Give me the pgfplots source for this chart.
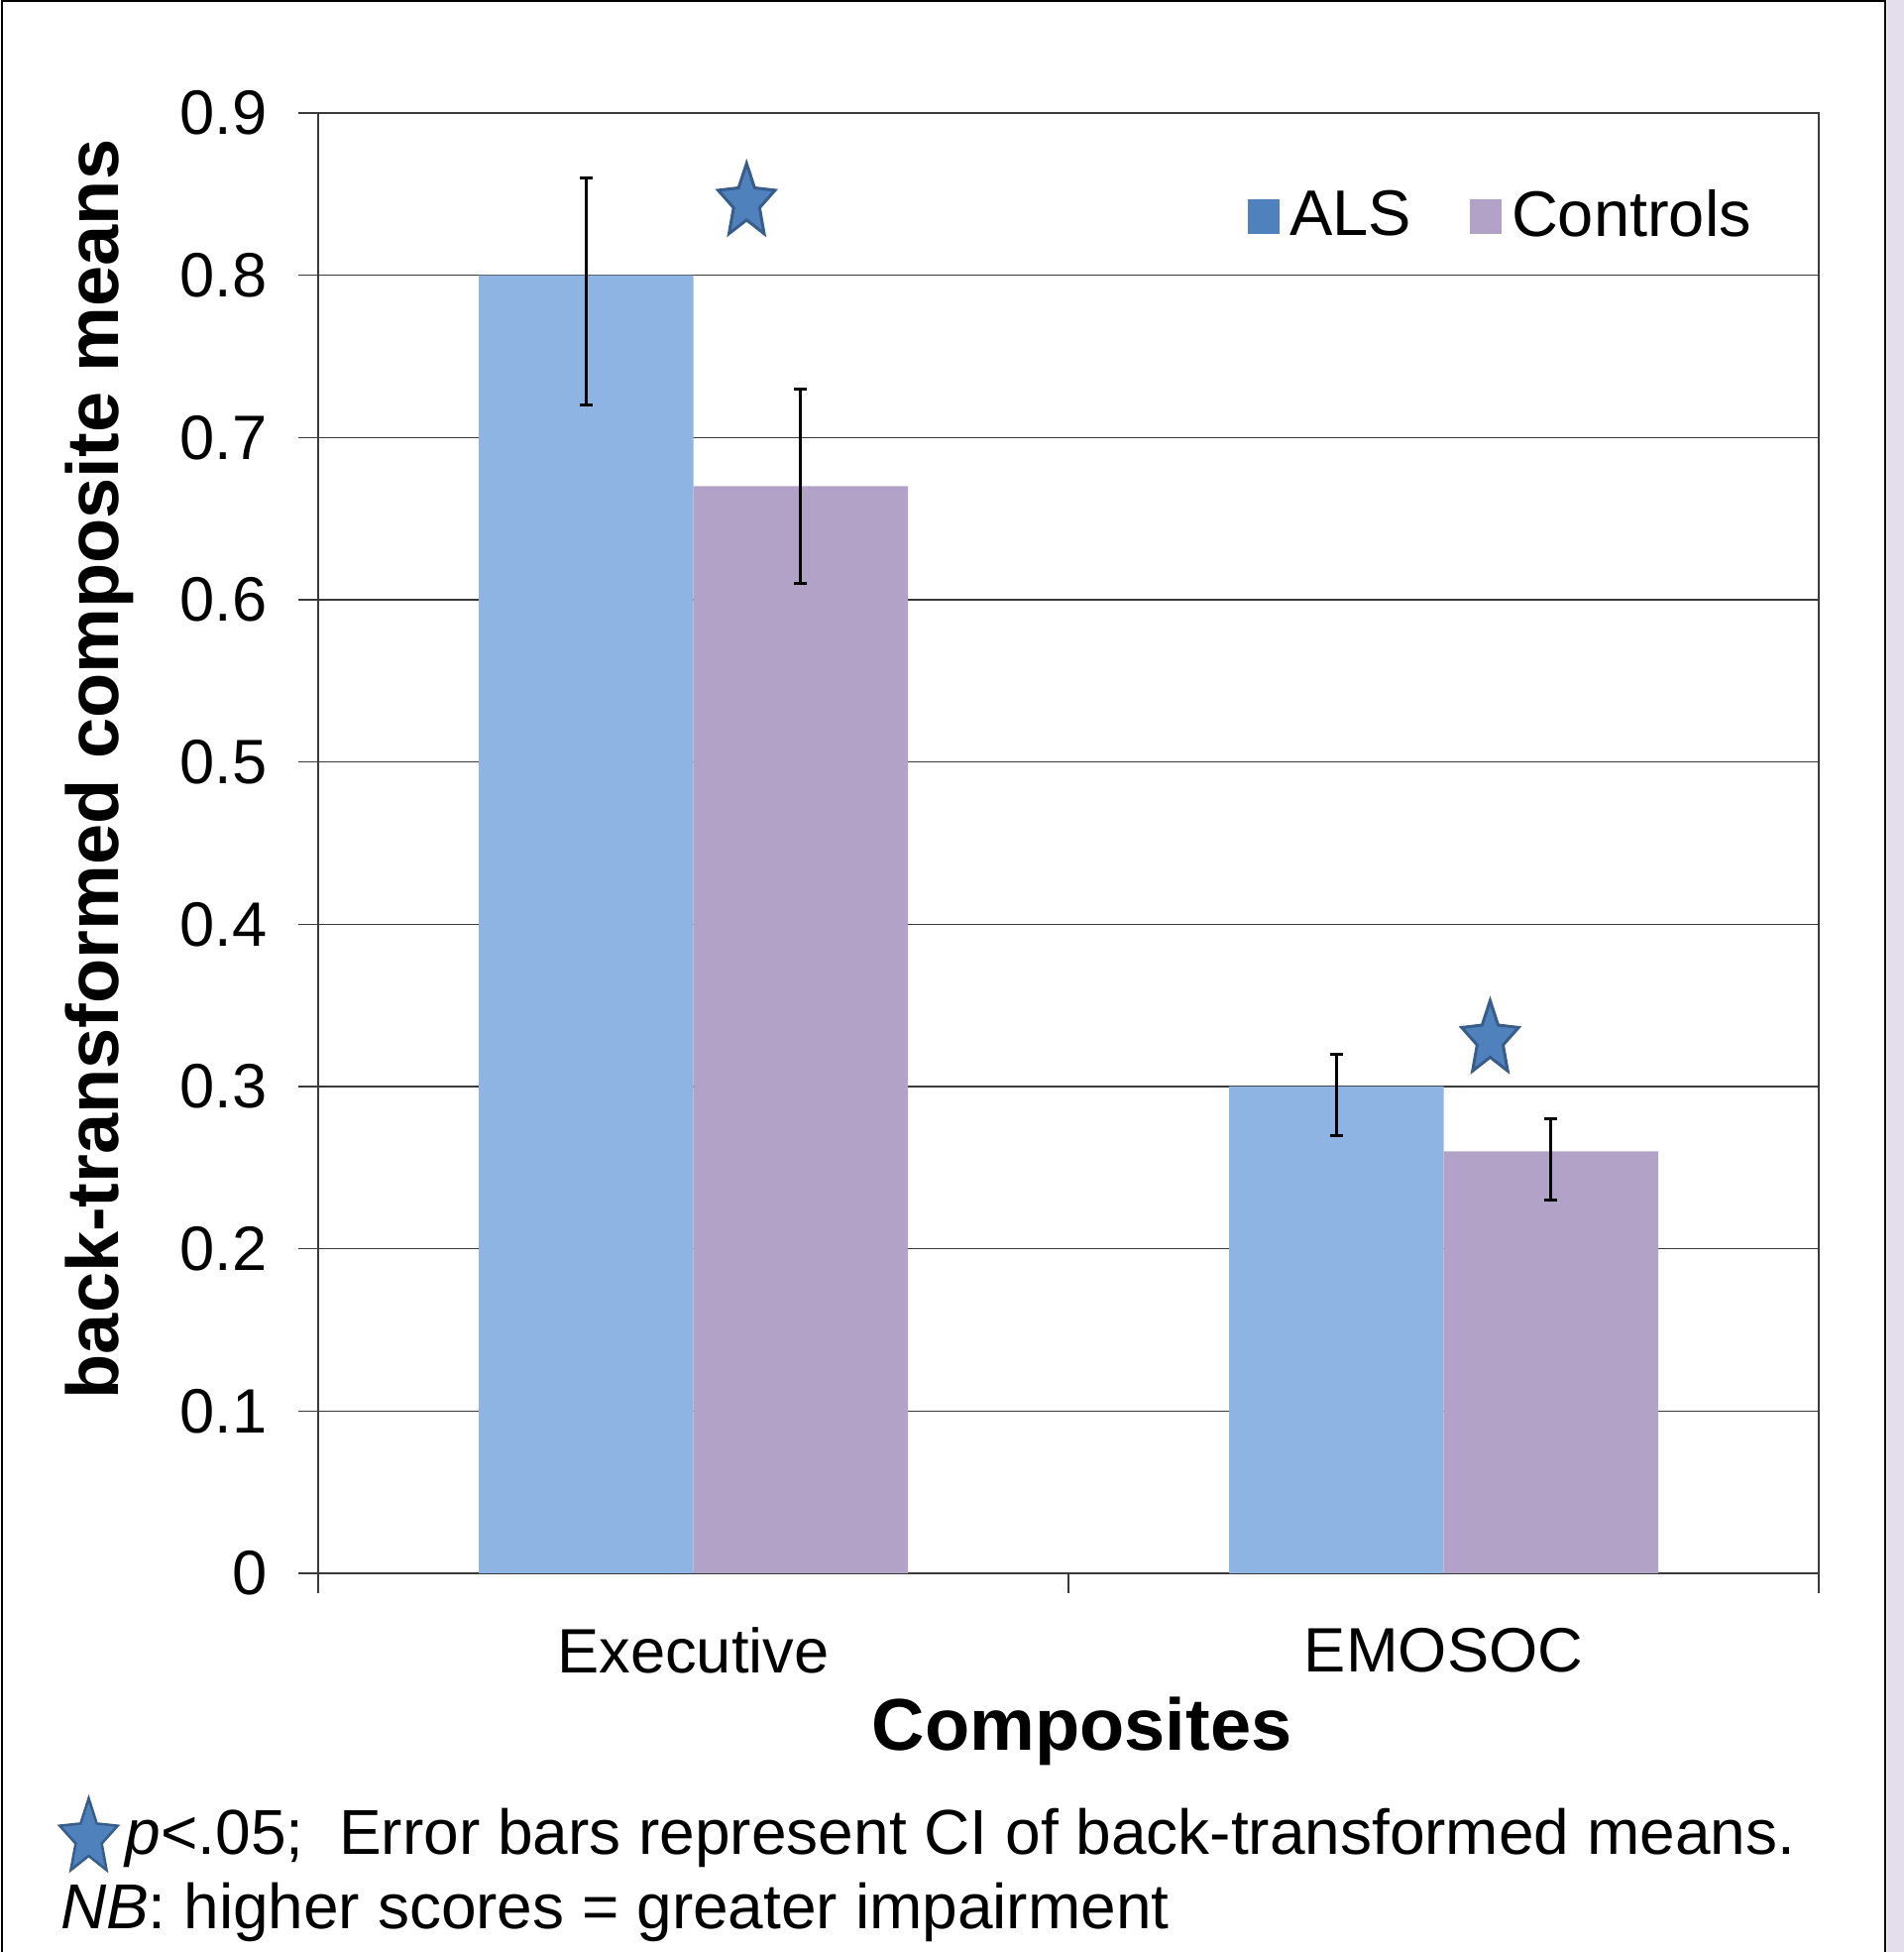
\documentclass[border=0pt]{standalone}
\usepackage{fontspec}
\setmainfont{Liberation Sans}
\usepackage{pgfplots}
\pgfplotsset{compat=1.18}
\usepackage{pgfplotstable}
\definecolor{alsbar}{HTML}{8EB4E3}
\definecolor{ctlbar}{HTML}{B3A2C7}
\definecolor{alsdark}{HTML}{4F81BD}
\definecolor{stardraw}{HTML}{385D8A}
\definecolor{lav}{HTML}{E4DEEC}
\definecolor{gridc}{HTML}{3A3A3A}

% bars placed at their own x (category 0 = Executive, 1 = EMOSOC)
\pgfplotstableread{
x y ep em
-0.143 0.80 0.06 0.08
0.857 0.30 0.02 0.03
}\als
\pgfplotstableread{
x y ep em
0.143 0.67 0.06 0.06
1.143 0.26 0.02 0.03
}\ctl
\pgfplotstableread{
x y
0.071 0.845
1.062 0.329
}\stars

\pgfdeclareplotmark{fstar}{%
 \pgfpathmoveto{\pgfqpoint{0pt}{7.85pt}}%
 \pgfpathlineto{\pgfqpoint{1.62pt}{2.90pt}}%
 \pgfpathlineto{\pgfqpoint{5.75pt}{2.42pt}}%
 \pgfpathlineto{\pgfqpoint{2.62pt}{-1.11pt}}%
 \pgfpathlineto{\pgfqpoint{3.55pt}{-6.35pt}}%
 \pgfpathlineto{\pgfqpoint{0pt}{-3.58pt}}%
 \pgfpathlineto{\pgfqpoint{-3.55pt}{-6.35pt}}%
 \pgfpathlineto{\pgfqpoint{-2.62pt}{-1.11pt}}%
 \pgfpathlineto{\pgfqpoint{-5.75pt}{2.42pt}}%
 \pgfpathlineto{\pgfqpoint{-1.62pt}{2.90pt}}%
 \pgfpathclose
 \pgfusepathqfillstroke
}

\begin{document}
\begin{tikzpicture}[x=1pt,y=1pt]
\useasboundingbox (0,0) rectangle (384.2,393.8);
\fill[lav] (380.8,0) rectangle (384.2,393.8);
\draw[line width=0.5pt] (0.4,0) -- (0.4,393.55) -- (380.4,393.55) -- (380.4,0);
\begin{axis}[
  at={(64.2pt,76.4pt)}, anchor=south west,
  scale only axis, width=302.8pt, height=294.6pt,
  xmin=-0.5, xmax=1.5, ymin=0, ymax=0.9,
  xtick={-0.5,0.5,1.5}, xticklabels={},
  extra x ticks={0,1}, extra x tick labels={Executive,EMOSOC},
  extra x tick style={tick style={draw=none}},
  ytick={0,0.1,0.2,0.3,0.4,0.5,0.6,0.7,0.8,0.9},
  yticklabels={0,0.1,0.2,0.3,0.4,0.5,0.6,0.7,0.8,0.9},
  xtick pos=bottom, ytick pos=left,
  tick align=outside, major tick length=4pt,
  tick style={draw=gridc, line width=0.3pt},
  axis line style={draw=gridc, line width=0.3pt},
  ymajorgrids, grid style={draw=gridc, line width=0.3pt},
  /pgf/number format/assume math mode=true,
  tick label style={font=\fontsize{12.65}{15}\selectfont},
  yticklabel style={anchor=east, xshift=-2.8pt},
  xticklabel style={anchor=center, yshift=-11.6pt},
  xlabel={Composites},
  xlabel style={at={(axis description cs:0.509,-0.108)}, anchor=center, font=\fontsize{14.8}{17}\selectfont\bfseries},
  ylabel={back-transformed composite means},
  ylabel style={at={(axis description cs:-0.146,0.5506)}, anchor=center, font=\fontsize{14.8}{17}\selectfont\bfseries},
  legend columns=2,
  legend style={at={(0.619,0.929)}, anchor=west, draw=none, fill=none, inner sep=0pt,
    font=\fontsize{13}{15}\selectfont,
    nodes={inner sep=2pt},
    /tikz/every even column/.append style={column sep=9.8pt}},
]
\addplot[ybar, bar width=0.286, bar shift=0, fill=alsbar, draw=none,
  legend image code/.code={\fill[alsdark] (0pt,-3.5pt) rectangle (6.4pt,3.5pt);},
  error bars/.cd, y dir=both, y explicit,
  error bar style={draw=black, line width=0.6pt},
  error mark=|,
  error mark options={draw=black, line width=0.6pt, mark size=1.3pt}]
  table[x=x, y=y, y error plus=ep, y error minus=em]{\als};
\addlegendentry{ALS}
\addplot[ybar, bar width=0.286, bar shift=0, fill=ctlbar, draw=none,
  legend image code/.code={\fill[ctlbar] (0pt,-3.5pt) rectangle (6.4pt,3.5pt);},
  error bars/.cd, y dir=both, y explicit,
  error bar style={draw=black, line width=0.6pt},
  error mark=|,
  error mark options={draw=black, line width=0.6pt, mark size=1.3pt}]
  table[x=x, y=y, y error plus=ep, y error minus=em]{\ctl};
\addlegendentry{Controls}
\addplot[only marks, mark=fstar, mark options={fill=alsdark, draw=stardraw, line width=0.6pt}, forget plot]
  table[x=x, y=y]{\stars};
\end{axis}
% footnote
\filldraw[fill=alsdark, draw=stardraw, line width=0.5pt, shift={(17.9,23)}, scale=0.93]
 (0,8.62) -- (1.75,3.14) -- (6.30,2.66) -- (2.83,-1.20) -- (3.89,-6.97) -- (0,-3.88)
 -- (-3.89,-6.97) -- (-2.83,-1.20) -- (-6.30,2.66) -- (-1.75,3.14) -- cycle;
\node[anchor=base west, inner sep=0pt, font=\fontsize{12.8}{15}\selectfont] at (25.2,19.6)
 {\textit{p}<.05;\ \ Error bars represent CI of back-transformed means.};
\node[anchor=base west, inner sep=0pt, font=\fontsize{12.8}{15}\selectfont] at (12,4.6)
 {\textit{NB}: higher scores = greater impairment};
\end{tikzpicture}
\end{document}
